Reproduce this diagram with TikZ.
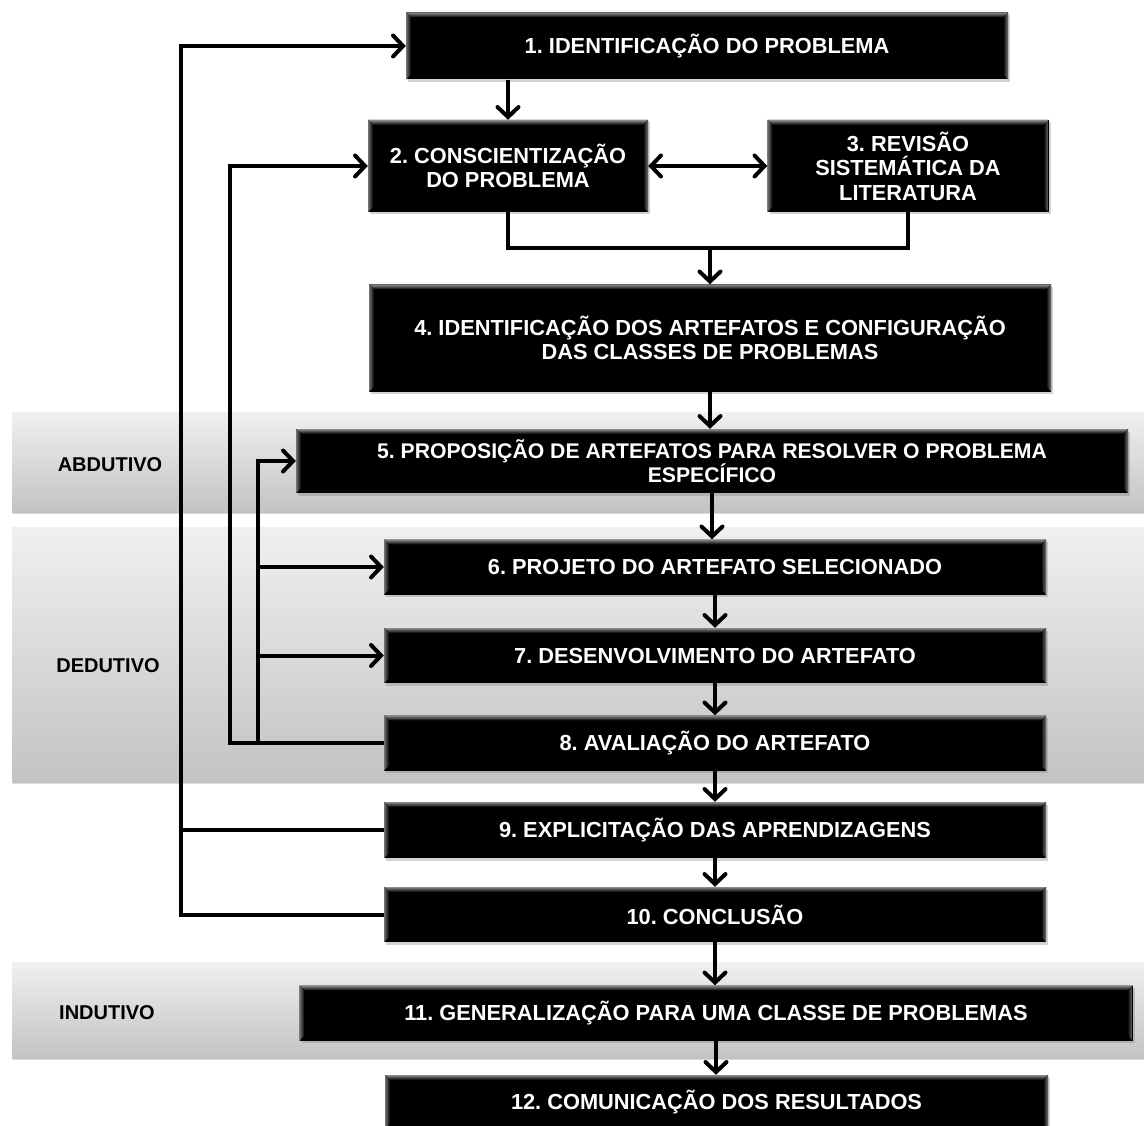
\documentclass[tikz,border=0pt]{standalone}
\usepackage{fontspec}
\setmainfont{Liberation Sans}
\usetikzlibrary{arrows.meta,shadows,calc}
\frenchspacing

\tikzset{
  % black process box with a bevelled rim
  stepbox/.style={
    rectangle, fill=black, text=white, align=center, inner sep=0pt,
    font=\bfseries\fontsize{21.8}{24.5}\selectfont,
    drop shadow={shadow xshift=2pt, shadow yshift=-2.5pt, opacity=0.35},
    path picture={
      \coordinate (pnw) at (path picture bounding box.north west);
      \coordinate (pne) at (path picture bounding box.north east);
      \coordinate (psw) at (path picture bounding box.south west);
      \coordinate (pse) at (path picture bounding box.south east);
      \fill[top color=black!45, bottom color=black]
        (pnw) -- (pne) -- ([shift={(-5pt,-5pt)}]pne) -- ([shift={(5pt,-5pt)}]pnw) -- cycle;
      \fill[left color=black!55, right color=black]
        (pnw) -- ([shift={(5pt,-5pt)}]pnw) -- ([shift={(5pt,5pt)}]psw) -- (psw) -- cycle;
      \fill[right color=black!55, left color=black]
        (pne) -- ([shift={(-5pt,-5pt)}]pne) -- ([shift={(-5pt,5pt)}]pse) -- (pse) -- cycle;
    }},
  % grey reasoning band behind the boxes
  band/.style={top color={rgb,255:red,240;green,240;blue,240},
    bottom color={rgb,255:red,195;green,195;blue,195},
    drop shadow={shadow xshift=1pt, shadow yshift=-2pt, opacity=0.3}},
  bandlabel/.style={text=black, font=\bfseries\fontsize{20}{24}\selectfont},
  conn/.style={draw=black, line width=4pt},
  tip/.style={Straight Barb[length=10pt,width=21pt,line cap=round,line join=round]},
  arr/.style={conn, -{Straight Barb[length=10pt,width=21pt,line cap=round]}},
  darr/.style={conn, {Straight Barb[length=10pt,width=21pt,line cap=round]}-{Straight Barb[length=10pt,width=21pt,line cap=round]}},
}

\begin{document}
\begin{tikzpicture}[x=1pt, y=-1pt]
\useasboundingbox (0,0) rectangle (1144,1126);

% reasoning bands
\path[band] (12,412) rectangle (1160,512);
\path[band] (12,527) rectangle (1160,782);
\path[band] (12,962) rectangle (1160,1058);

\node[bandlabel] (abd) at (110,465) {ABDUTIVO};
\node[bandlabel] (ded) at (108,666) {DEDUTIVO};
\node[bandlabel] (ind) at (107,1013) {INDUTIVO};

% process steps
\node[stepbox, minimum width=602, minimum height=67] (b1) at (707,46) {1. IDENTIFICAÇÃO DO PROBLEMA};
\node[stepbox, minimum width=280, minimum height=92] (b2) at (508,166) {2. CONSCIENTIZAÇÃO\\DO PROBLEMA};
\node[stepbox, minimum width=281, minimum height=92] (b3) at (908,166) {3. REVISÃO\\SISTEMÁTICA DA\\LITERATURA};
\node[stepbox, minimum width=682, minimum height=107] (b4) at (710,338) {4. IDENTIFICAÇÃO DOS ARTEFATOS E CONFIGURAÇÃO\\DAS CLASSES DE PROBLEMAS};
\node[stepbox, minimum width=832, minimum height=64, font=\bfseries\fontsize{21.2}{24.5}\selectfont] (b5) at (712,461) {5. PROPOSIÇÃO DE ARTEFATOS PARA RESOLVER O PROBLEMA\\ESPECÍFICO};
\node[stepbox, minimum width=662, minimum height=55] (b6) at (715,567) {6. PROJETO DO ARTEFATO SELECIONADO};
\node[stepbox, minimum width=662, minimum height=55] (b7) at (715,655.5) {7. DESENVOLVIMENTO DO ARTEFATO};
\node[stepbox, minimum width=662, minimum height=55] (b8) at (715,743) {8. AVALIAÇÃO DO ARTEFATO};
\node[stepbox, minimum width=662, minimum height=56] (b9) at (715,830) {9. EXPLICITAÇÃO DAS APRENDIZAGENS};
\node[stepbox, minimum width=662, minimum height=55] (b10) at (715,914.5) {10. CONCLUSÃO};
\node[stepbox, minimum width=833, minimum height=55] (b11) at (716,1013) {11. GENERALIZAÇÃO PARA UMA CLASSE DE PROBLEMAS};
\node[stepbox, minimum width=663, minimum height=54] (b12) at (716.5,1102) {12. COMUNICAÇÃO DOS RESULTADOS};

% feedback columns on the left
\coordinate (colA) at (181,0);
\coordinate (colB) at (230,0);
\coordinate (colC) at (258,0);
\coordinate (j23) at (710,248);

% main sequence
\draw[arr] (b2.north |- b1.south) -- (b2.north);
\draw[darr] (b2.east) -- (b3.west);
\draw[conn] (b2.south) |- (j23) -| (b3.south);
\draw[arr] (j23) -- (b4.north);
\draw[arr] (b4.south) -- (b4.south |- b5.north);
\draw[arr] (b5.south) -- (b5.south |- b6.north);
\draw[arr] (b6.south) -- (b7.north);
\draw[arr] (b7.south) -- (b8.north);
\draw[arr] (b8.south) -- (b9.north);
\draw[arr] (b9.south) -- (b10.north);
\draw[arr] (b10.south) -- (b10.south |- b11.north);
\draw[arr] (b11.south) -- (b11.south |- b12.north);

% feedback loops
\draw[arr] (b10.west) -| (colA |- b1.west) -- (b1.west);
\draw[conn] (b9.west) -- (colA |- b9.west);
\draw[arr] (b8.west) -| (colB |- b2.west) -- (b2.west);
\draw[arr] (colC |- b8.west) |- (b5.west);
\draw[arr] (colC |- b6.west) -- (b6.west);
\draw[arr] (colC |- b7.west) -- (b7.west);
\end{tikzpicture}
\end{document}
